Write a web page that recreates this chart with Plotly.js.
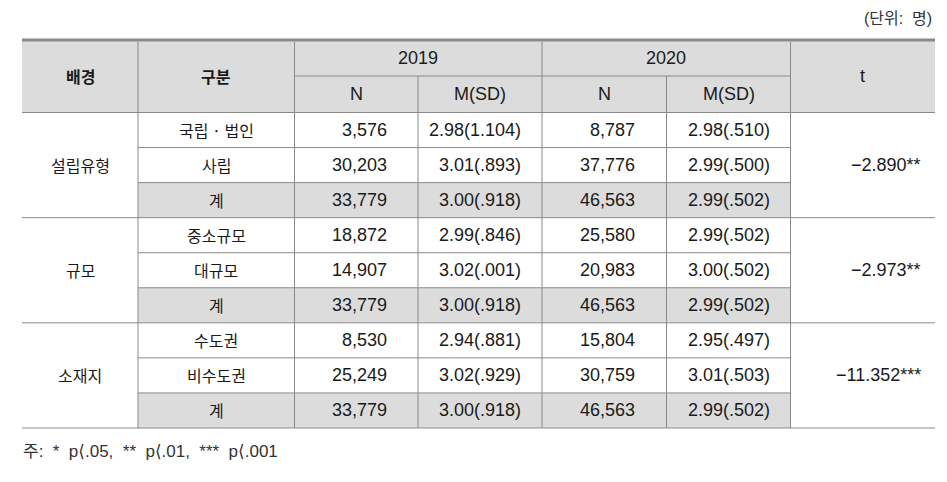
<!DOCTYPE html>
<html>
<head>
<meta charset="utf-8">
<script src="https://cdn.plot.ly/plotly-3.0.1.min.js"></script>
<style>html,body{margin:0;padding:0;background:#fff;}</style>
</head>
<body>
<div id="chart" style="width:947px;height:482px"></div>
<script>
// ---- data ----
const groups = ['설립유형', '규모', '소재지'];
const subgroups = ['국립 · 법인', '사립', '계', '중소규모', '대규모', '계', '수도권', '비수도권', '계'];
const n2019 = ['3,576', '30,203', '33,779', '18,872', '14,907', '33,779', '8,530', '25,249', '33,779'];
const msd2019 = ['2.98(1.104)', '3.01(.893)', '3.00(.918)', '2.99(.846)', '3.02(.001)', '3.00(.918)', '2.94(.881)', '3.02(.929)', '3.00(.918)'];
const n2020 = ['8,787', '37,776', '46,563', '25,580', '20,983', '46,563', '15,804', '30,759', '46,563'];
const msd2020 = ['2.98(.510)', '2.99(.500)', '2.99(.502)', '2.99(.502)', '3.00(.502)', '2.99(.502)', '2.95(.497)', '3.01(.503)', '2.99(.502)'];
const tValues = ['−2.890**', '−2.973**', '−11.352***'];
const headerTop = ['배경', '구분', '2019', '2020', 't'];
const headerSub = ['N', 'M(SD)', 'N', 'M(SD)'];
const unitLabel = '(단위:  명)';
const footnote = '주:  *  p⟨.05,  **  p⟨.01,  ***  p⟨.001';

// ---- layout geometry ----
const X = [22, 138, 294.5, 418, 542, 666.5, 790.5, 935];
const yTop = 40, yMid = 76, yHead = 112.5, yBot = 428;
const rowH = (yBot - yHead) / subgroups.length;
const lineC = '#8a8a8a', fillC = '#dcdcdc', txtC = '#1a1a1a';
const numFont = {family: 'Liberation Sans, Arial, sans-serif', size: 18, color: txtC};
const korFont = {family: 'Noto Sans CJK KR, sans-serif', size: 16, color: txtC};
const mixFont = {family: 'Liberation Sans, DejaVu Sans, Noto Sans CJK KR, sans-serif', size: 16, color: '#333'};
const footFont = Object.assign({}, mixFont, {size: 17});

const shapes = [];
const ann = [];
function rect(x0, x1, y0, y1, c) { shapes.push({type: 'rect', xref: 'x', yref: 'y', x0, x1, y0, y1, fillcolor: c, line: {width: 0}, layer: 'below'}); }
function line(x0, x1, y0, y1, w) { shapes.push({type: 'line', xref: 'x', yref: 'y', x0, x1, y0, y1, line: {color: lineC, width: w || 1}}); }
function text(t, x, y, anchor, font) { ann.push({text: t, x, y, xref: 'x', yref: 'y', xanchor: anchor, yanchor: 'middle', showarrow: false, font, borderpad: 0}); }

// header fill
rect(X[0], X[7], yTop, yHead, fillC);
// total rows fill
subgroups.forEach((s, i) => { if (s === '계') rect(X[1], X[6], yHead + i * rowH, yHead + (i + 1) * rowH, fillC); });

// horizontal lines
line(X[0], X[7], yTop, yTop, 3);
line(X[2], X[6], yMid, yMid);
line(X[0], X[7], yHead, yHead);
subgroups.forEach((s, i) => {
  const y = yHead + (i + 1) * rowH;
  if ((i + 1) % 3 === 0) line(X[0], X[7], y, y);
  else line(X[1], X[6], y, y);
});
// vertical lines
for (let k = 1; k <= 6; k++) {
  if (k === 3 || k === 5) line(X[k], X[k], yMid, yBot);
  else line(X[k], X[k], yTop + 1.5, yBot);
}

// header text
text('<b>' + headerTop[0] + '</b>', (X[0] + X[1]) / 2, (yTop + yHead) / 2, 'center', korFont);
text('<b>' + headerTop[1] + '</b>', (X[1] + X[2]) / 2, (yTop + yHead) / 2, 'center', korFont);
text(headerTop[2], (X[2] + X[4]) / 2, (yTop + yMid) / 2, 'center', numFont);
text(headerTop[3], (X[4] + X[6]) / 2, (yTop + yMid) / 2, 'center', numFont);
text(headerTop[4], (X[6] + X[7]) / 2, (yTop + yHead) / 2, 'center', numFont);
headerSub.forEach((h, k) => text(h, (X[2 + k] + X[3 + k]) / 2, (yMid + yHead) / 2, 'center', numFont));

// body
const rightEdge = [388, 521.5, 636, 770.5];
subgroups.forEach((s, i) => {
  const yc = yHead + (i + 0.5) * rowH;
  text(s, (X[1] + X[2]) / 2, yc, 'center', korFont);
  text(n2019[i], rightEdge[0], yc, 'right', numFont);
  text(msd2019[i], rightEdge[1], yc, 'right', numFont);
  text(n2020[i], rightEdge[2], yc, 'right', numFont);
  text(msd2020[i], rightEdge[3], yc, 'right', numFont);
});
groups.forEach((g, j) => {
  const yc = yHead + (j * 3 + 1.5) * rowH;
  text(g, (X[0] + X[1]) / 2, yc, 'center', korFont);
  text(tValues[j], 922, yc, 'right', numFont);
});

text(unitLabel, 933, 18, 'right', mixFont);
text(footnote, 22, 451, 'left', footFont);

Plotly.newPlot('chart', [{x: [], y: [], type: 'scatter', hoverinfo: 'skip', showlegend: false}], {
  width: 947, height: 482,
  margin: {l: 0, r: 0, t: 0, b: 0},
  paper_bgcolor: '#fff', plot_bgcolor: '#fff',
  xaxis: {range: [0, 947], visible: false, fixedrange: true},
  yaxis: {range: [482, 0], visible: false, fixedrange: true},
  shapes, annotations: ann, showlegend: false
}, {staticPlot: true});
</script>
</body>
</html>
